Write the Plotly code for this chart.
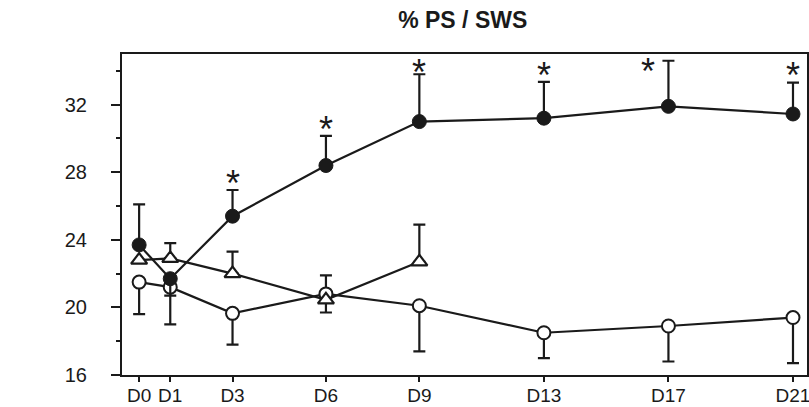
import plotly.graph_objects as go

days = [0, 1, 3, 6, 9, 13, 17, 21]
day_labels = ["D0", "D1", "D3", "D6", "D9", "D13", "D17", "D21"]

filled = [23.7, 21.7, 25.4, 28.4, 31.0, 31.2, 31.9, 31.45]
filled_plus = [2.4, 0, 1.55, 1.75, 2.8, 2.15, 2.7, 1.85]
filled_minus = [0, 1.0, 0, 0, 0, 0, 0, 0]

hollow = [21.5, 21.2, 19.65, 20.8, 20.1, 18.5, 18.9, 19.4]
hollow_plus = [0, 0, 0, 1.1, 0, 0, 0, 0]
hollow_minus = [1.9, 2.2, 1.85, 0, 2.7, 1.5, 2.1, 2.7]

tri_days = [0, 1, 3, 6, 9]
tri = [22.8, 22.9, 22.0, 20.45, 22.7]
tri_plus = [0, 0.9, 1.3, 0, 2.2]
tri_minus = [0, 0, 0, 0.75, 0]

star_days = [3, 6, 9, 13, 17, 21]
star_y = [27.7, 30.9, 34.25, 34.1, 34.3, 34.1]
star_xshift = [0, 0, 0, 0, -20, 0]

y_ticks = [16, 20, 24, 28, 32]

BLACK = "#1a1a1a"

def err(plus, minus):
    return dict(type="data", symmetric=False, array=plus, arrayminus=minus,
                color=BLACK, thickness=2.2, width=6)

fig = go.Figure()
fig.add_trace(go.Scatter(
    x=days, y=hollow, mode="lines+markers",
    line=dict(color=BLACK, width=2.2),
    marker=dict(symbol="circle", size=13, color="white", line=dict(color=BLACK, width=2)),
    error_y=err(hollow_plus, hollow_minus), showlegend=False, cliponaxis=False))
fig.add_trace(go.Scatter(
    x=tri_days, y=tri, mode="lines+markers",
    line=dict(color=BLACK, width=2.2),
    marker=dict(symbol="triangle-up", size=14, color="white", line=dict(color=BLACK, width=2.2)),
    error_y=err(tri_plus, tri_minus), showlegend=False, cliponaxis=False))
fig.add_trace(go.Scatter(
    x=days, y=filled, mode="lines+markers",
    line=dict(color=BLACK, width=2.2),
    marker=dict(symbol="circle", size=14, color=BLACK, line=dict(color=BLACK, width=1)),
    error_y=err(filled_plus, filled_minus), showlegend=False, cliponaxis=False))

for d, y, xs in zip(star_days, star_y, star_xshift):
    fig.add_annotation(x=d, y=y, text="*", showarrow=False, xshift=xs, yshift=-6,
                       font=dict(family="Liberation Sans", size=36, color=BLACK),
                       xanchor="center", yanchor="middle")

fig.update_layout(
    width=809, height=407,
    margin=dict(l=122, r=2, t=54, b=32, autoexpand=False),
    paper_bgcolor="white", plot_bgcolor="white",
    font=dict(family="Liberation Sans", color=BLACK, size=20),
    title=dict(text="<b>% PS / SWS</b>", x=0.572, xanchor="center", y=0.952, yanchor="middle",
               font=dict(family="Liberation Sans", size=23, color=BLACK)),
)
fig.update_xaxes(range=[-0.55, 21.45], tickvals=days, ticktext=day_labels, automargin=False,
                 showgrid=False, zeroline=False, showline=True, mirror=True,
                 linecolor=BLACK, linewidth=2, ticks="outside", ticklen=5, tickwidth=2,
                 tickcolor=BLACK, tickfont=dict(size=19), ticklabeloverflow="allow",
                 ticklabelstandoff=-3)
fig.update_yaxes(range=[16, 35], tickvals=y_ticks, showgrid=False, zeroline=False, automargin=False,
                 showline=True, mirror=True, linecolor=BLACK, linewidth=2,
                 ticks="outside", ticklen=9, tickwidth=2, tickcolor=BLACK,
                 ticklabelstandoff=20, tickfont=dict(size=20),
                 minor=dict(dtick=2, tick0=16, ticks="outside", ticklen=4, tickwidth=2,
                            tickcolor=BLACK, showgrid=False))

fig.write_html("out.html", config={"displayModeBar": False},
               post_script="document.body.style.margin='0';document.body.style.overflow='hidden';")
